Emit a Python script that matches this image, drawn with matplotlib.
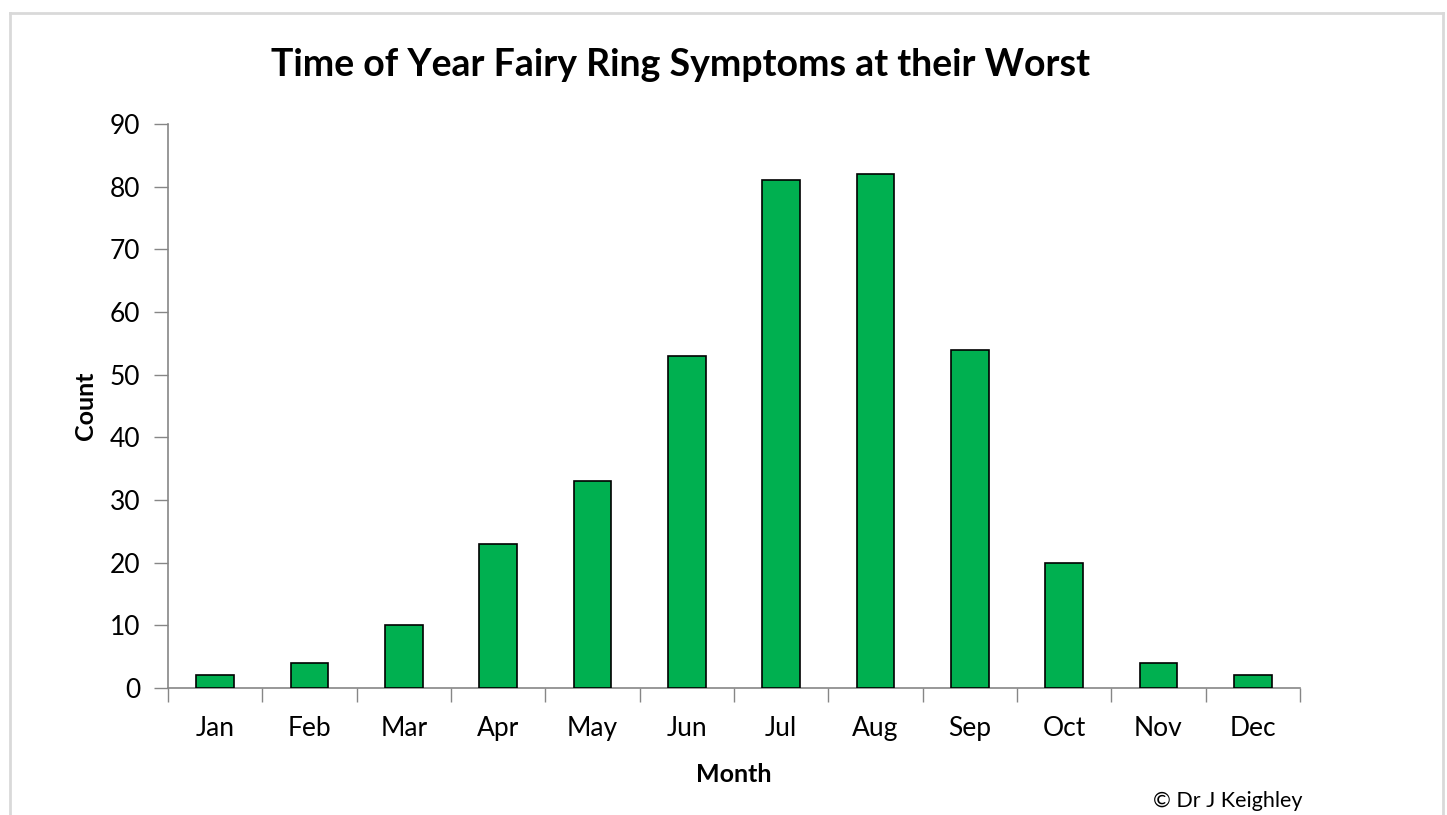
import matplotlib.pyplot as plt
from matplotlib.lines import Line2D

# dados
meses = ["Jan", "Feb", "Mar", "Apr", "May", "Jun",
         "Jul", "Aug", "Sep", "Oct", "Nov", "Dec"]
contagem = [2, 4, 10, 23, 33, 53, 81, 82, 54, 20, 4, 2]
ticks_y = [0, 10, 20, 30, 40, 50, 60, 70, 80, 90]

plt.rcParams['font.family'] = ['Lato', 'DejaVu Sans']

fig = plt.figure(figsize=(14.47, 8.15), dpi=100)
ax = fig.add_axes([0.1161, 0.1558, 0.7823, 0.6921])

x = list(range(len(meses)))
ax.bar(x, contagem, width=0.4, color="#00B050", edgecolor="black", linewidth=1.2, zorder=3)

ax.set_xlim(-0.5, len(meses) - 0.5)
ax.set_ylim(0, 90)
ax.set_yticks(ticks_y)
ax.tick_params(axis='y', labelsize=19, length=10, width=1, color="#868686", pad=10)

# ticks do eixo x nas divisões entre categorias
ax.set_xticks([i - 0.5 for i in range(len(meses) + 1)])
ax.set_xticklabels([])
ax.set_xticks(x, minor=True)
ax.set_xticklabels(meses, minor=True, fontsize=19)
ax.tick_params(axis='x', which='major', length=10, width=1, color="#868686")
ax.tick_params(axis='x', which='minor', length=0, pad=20)

for lado in ["top", "right"]:
    ax.spines[lado].set_visible(False)
for lado in ["left", "bottom"]:
    ax.spines[lado].set_color("#868686")
    ax.spines[lado].set_linewidth(1.2)

ax.set_ylabel("Count", fontsize=18, fontweight="bold", labelpad=9)
ax.set_xlabel("Month", fontsize=18, fontweight="bold", labelpad=16)

fig.text(0.47, 0.92, "Time of Year Fairy Ring Symptoms at their Worst",
         ha="center", va="center", fontsize=27, fontweight="bold")
fig.text(0.90, 0.017, "\u00a9 Dr J Keighley", ha="right", va="center", fontsize=15.5)

# moldura cinza clara
cor = "#d9d9d9"
fig.add_artist(Line2D([10 / 1447, 1443 / 1447], [1 - 13 / 815, 1 - 13 / 815], color=cor, lw=2))
fig.add_artist(Line2D([10 / 1447, 10 / 1447], [0, 1 - 13 / 815], color=cor, lw=2))
fig.add_artist(Line2D([1443 / 1447, 1443 / 1447], [0, 1 - 13 / 815], color=cor, lw=2))

fig.savefig("out.png", dpi=100)
